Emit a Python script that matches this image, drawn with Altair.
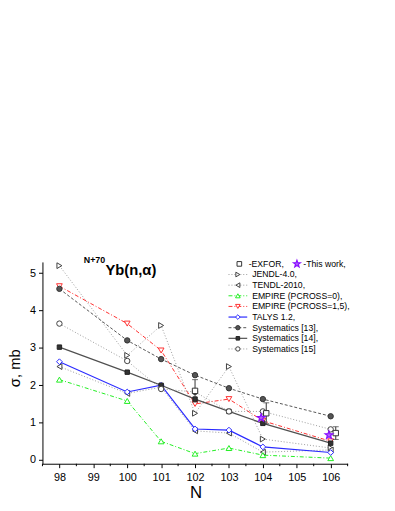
import altair as alt
import pandas as pd

# ---------------- data ----------------
N = [98, 100, 101, 102, 103, 104, 106]
jendl = [5.2, 2.8, 3.6, 1.25, 2.5, 0.56, 0.32]
tendl = [2.5, 1.78, 1.95, 0.78, 0.72, 0.21, 0.27]
empire0 = [2.15, 1.58, 0.5, 0.17, 0.32, 0.13, 0.05]
empire15 = [4.65, 3.65, 2.93, 1.5, 1.63, 1.05, 0.5]
talys = [2.63, 1.82, 2.0, 0.83, 0.8, 0.35, 0.2]
sys13 = [4.58, 3.2, 2.7, 2.27, 1.92, 1.63, 1.17]
sys14 = [3.02, 2.35, 2.0, 1.63, 1.3, 0.98, 0.45]
sys15 = [3.65, 2.65, 1.9, 1.82, 1.3, 1.3, 0.82]

exfor_N = [102, 104.1, 106.15]
exfor_val = [1.85, 1.25, 0.72]
exfor_err = [0.3, 0.28, 0.17]

this_N = [103.95, 105.95]
this_val = [1.13, 0.67]

x_ticks = [98, 99, 100, 101, 102, 103, 104, 105, 106]
x_minor = [97.5, 98.5, 99.5, 100.5, 101.5, 102.5, 103.5, 104.5, 105.5, 106.5]
y_ticks = [0, 1, 2, 3, 4, 5]

# name, values, line colour, dash, shape, marker stroke, marker fill, line width, marker size
series = [
    ("JENDL-4.0,", jendl, "#9a9a9a", [1, 2], "triangle-right", "#404040", "white", 1.0, 34),
    ("TENDL-2010,", tendl, "#9a9a9a", [1, 2], "triangle-left", "#404040", "white", 1.0, 34),
    ("EMPIRE (PCROSS=0),", empire0, "#22ee22", [4, 2, 1, 2], "triangle-up", "#22ee22", "white", 1.0, 34),
    ("EMPIRE (PCROSS=1,5),", empire15, "#ff3030", [4, 2, 1, 2], "triangle-down", "#ff3030", "white", 1.0, 34),
    ("TALYS 1.2,", talys, "#2a2aff", None, "diamond", "#2a2aff", "white", 1.2, 34),
    ("Systematics [13],", sys13, "#555555", [3, 2], "circle", "#333333", "#555555", 1.0, 30),
    ("Systematics [14],", sys14, "#505050", None, "square", "#222222", "#333333", 1.2, 20),
    ("Systematics [15]", sys15, "#9a9a9a", [1, 2], "circle", "#404040", "white", 1.0, 30),
]

STAR = "M0,-1L0.24,-0.33L0.95,-0.31L0.39,0.13L0.59,0.81L0,0.41L-0.59,0.81L-0.39,0.13L-0.95,-0.31L-0.24,-0.33Z"

W, H = 310, 205
xs = alt.Scale(domain=[97.5, 106.5], nice=False, zero=False)
ys = alt.Scale(domain=[-0.1, 5.3], nice=False, zero=False)

xaxis = alt.Axis(values=x_ticks, format="d", title=None, grid=False, tickSize=4,
                 labelFontSize=11, labelPadding=4, domainColor="black", tickColor="black",
                 labelColor="black", labelFont="Liberation Sans", labelOverlap=False)
yaxis = alt.Axis(values=y_ticks, format="d", title=None, grid=False, tickSize=4,
                 labelFontSize=11, labelPadding=3, domainColor="black", tickColor="black",
                 labelColor="black", labelFont="Liberation Sans", labelOverlap=False)

layers = []
for name, vals, lc, dash, shape, ms, mf, sw, msz in series:
    df = pd.DataFrame({"N": N, "sigma": vals})
    base = alt.Chart(df)
    lkw = dict(color=lc, strokeWidth=sw)
    if dash:
        lkw["strokeDash"] = dash
    enc_x = alt.X("N:Q", scale=xs, axis=xaxis)
    enc_y = alt.Y("sigma:Q", scale=ys, axis=yaxis)
    layers.append(base.mark_line(**lkw).encode(x=enc_x, y=enc_y))
    layers.append(base.mark_point(shape=shape, size=msz, stroke=ms, fill=mf, filled=False,
                                  fillOpacity=1, strokeWidth=1, opacity=1).encode(
        x=enc_x, y=enc_y))

# EXFOR with error bars
ex = pd.DataFrame({"N": exfor_N, "v": exfor_val, "e": exfor_err})
ex["lo"] = ex["v"] - ex["e"]
ex["hi"] = ex["v"] + ex["e"]
exb = alt.Chart(ex)
layers.append(exb.mark_rule(color="#333333", strokeWidth=1).encode(
    x=alt.X("N:Q", scale=xs, axis=xaxis), y=alt.Y("lo:Q", scale=ys, axis=yaxis), y2="hi:Q"))
for col in ["lo", "hi"]:
    layers.append(exb.mark_tick(orient="horizontal", size=6, thickness=1, color="#333333").encode(
        x=alt.X("N:Q", scale=xs, axis=xaxis), y=alt.Y(f"{col}:Q", scale=ys, axis=yaxis)))
layers.append(exb.mark_point(shape="square", size=30, stroke="#333333", fill="white",
                             fillOpacity=1, strokeWidth=1, opacity=1).encode(
    x=alt.X("N:Q", scale=xs, axis=xaxis), y=alt.Y("v:Q", scale=ys, axis=yaxis)))

# This work
tw = pd.DataFrame({"N": this_N, "v": this_val})
layers.append(alt.Chart(tw).mark_point(shape=STAR, size=70, stroke="#8a10ff", fill="#b060ff",
                                       fillOpacity=1, strokeWidth=1.2, opacity=1).encode(
    x=alt.X("N:Q", scale=xs, axis=xaxis), y=alt.Y("v:Q", scale=ys, axis=yaxis)))

# minor x ticks
mdf = pd.DataFrame({"N": x_minor})
layers.append(alt.Chart(mdf).mark_rule(color="black", strokeWidth=1).encode(
    x=alt.X("N:Q", scale=xs, axis=xaxis), y=alt.value(H), y2=alt.value(H + 2.5)))

# ---------------- legend ----------------
one = pd.DataFrame({"a": [0]})
LX0, LX1, LS, LT = 189, 208, 198.5, 213
ROW0, DY = 2, 10.8
FONT = "Liberation Sans"
FS = 8.8

# row 0: EXFOR + This work
layers.append(alt.Chart(one).mark_point(shape="square", size=22, stroke="#333333", fill="white",
                                        fillOpacity=1, opacity=1, strokeWidth=1).encode(
    x=alt.value(200), y=alt.value(ROW0)))
layers.append(alt.Chart(one).mark_text(text="-EXFOR,", align="left", baseline="middle",
                                       font=FONT, fontSize=FS, color="black").encode(
    x=alt.value(209.5), y=alt.value(ROW0)))
layers.append(alt.Chart(one).mark_point(shape=STAR, size=55, stroke="#8a10ff", fill="#b060ff",
                                        fillOpacity=1, opacity=1, strokeWidth=1.2).encode(
    x=alt.value(258.5), y=alt.value(ROW0)))
layers.append(alt.Chart(one).mark_text(text="-This work,", align="left", baseline="middle",
                                       font=FONT, fontSize=FS, color="black").encode(
    x=alt.value(265), y=alt.value(ROW0)))

for i, (name, vals, lc, dash, shape, ms, mf, sw, msz) in enumerate(series, start=1):
    yy = ROW0 + DY * i
    lkw = dict(color=lc, strokeWidth=sw)
    if dash:
        lkw["strokeDash"] = dash
    layers.append(alt.Chart(one).mark_rule(**lkw).encode(
        x=alt.value(LX0), x2=alt.value(LX1), y=alt.value(yy)))
    layers.append(alt.Chart(one).mark_point(shape=shape, size=msz * 0.65, stroke=ms, fill=mf,
                                            fillOpacity=1, opacity=1, strokeWidth=1).encode(
        x=alt.value(LS), y=alt.value(yy)))
    layers.append(alt.Chart(one).mark_text(text=name, align="left", baseline="middle",
                                           font=FONT, fontSize=FS, color="black").encode(
        x=alt.value(LT), y=alt.value(yy)))

# ---------------- titles ----------------
layers.append(alt.Chart(one).mark_text(text="N+70", align="left", baseline="alphabetic",
                                       font=FONT, fontSize=9, fontWeight="bold", color="black").encode(
    x=alt.value(42), y=alt.value(1)))
layers.append(alt.Chart(one).mark_text(text="Yb(n,α)", align="left", baseline="alphabetic",
                                       font=FONT, fontSize=15, fontWeight="bold", color="black").encode(
    x=alt.value(64), y=alt.value(13)))
layers.append(alt.Chart(one).mark_text(text="σ, mb", align="center", baseline="middle", angle=270,
                                       font=FONT, fontSize=15, color="black").encode(
    x=alt.value(-28), y=alt.value(108)))
layers.append(alt.Chart(one).mark_text(text="N", align="center", baseline="middle",
                                       font=FONT, fontSize=17, color="black").encode(
    x=alt.value(156), y=alt.value(235)))

chart = alt.layer(*layers).properties(
    width=W, height=H,
    autosize=alt.AutoSizeParams(type="none"),
    padding={"left": 35, "top": 254, "right": 40, "bottom": 40},
).configure_view(stroke=None).configure_axis(
    domainWidth=1, tickWidth=1, labelOverlap=False
).configure_axisX(labelOverlap=False, tickCount=9)

chart.save("out.html", embed_options={"renderer": "svg", "actions": False})
